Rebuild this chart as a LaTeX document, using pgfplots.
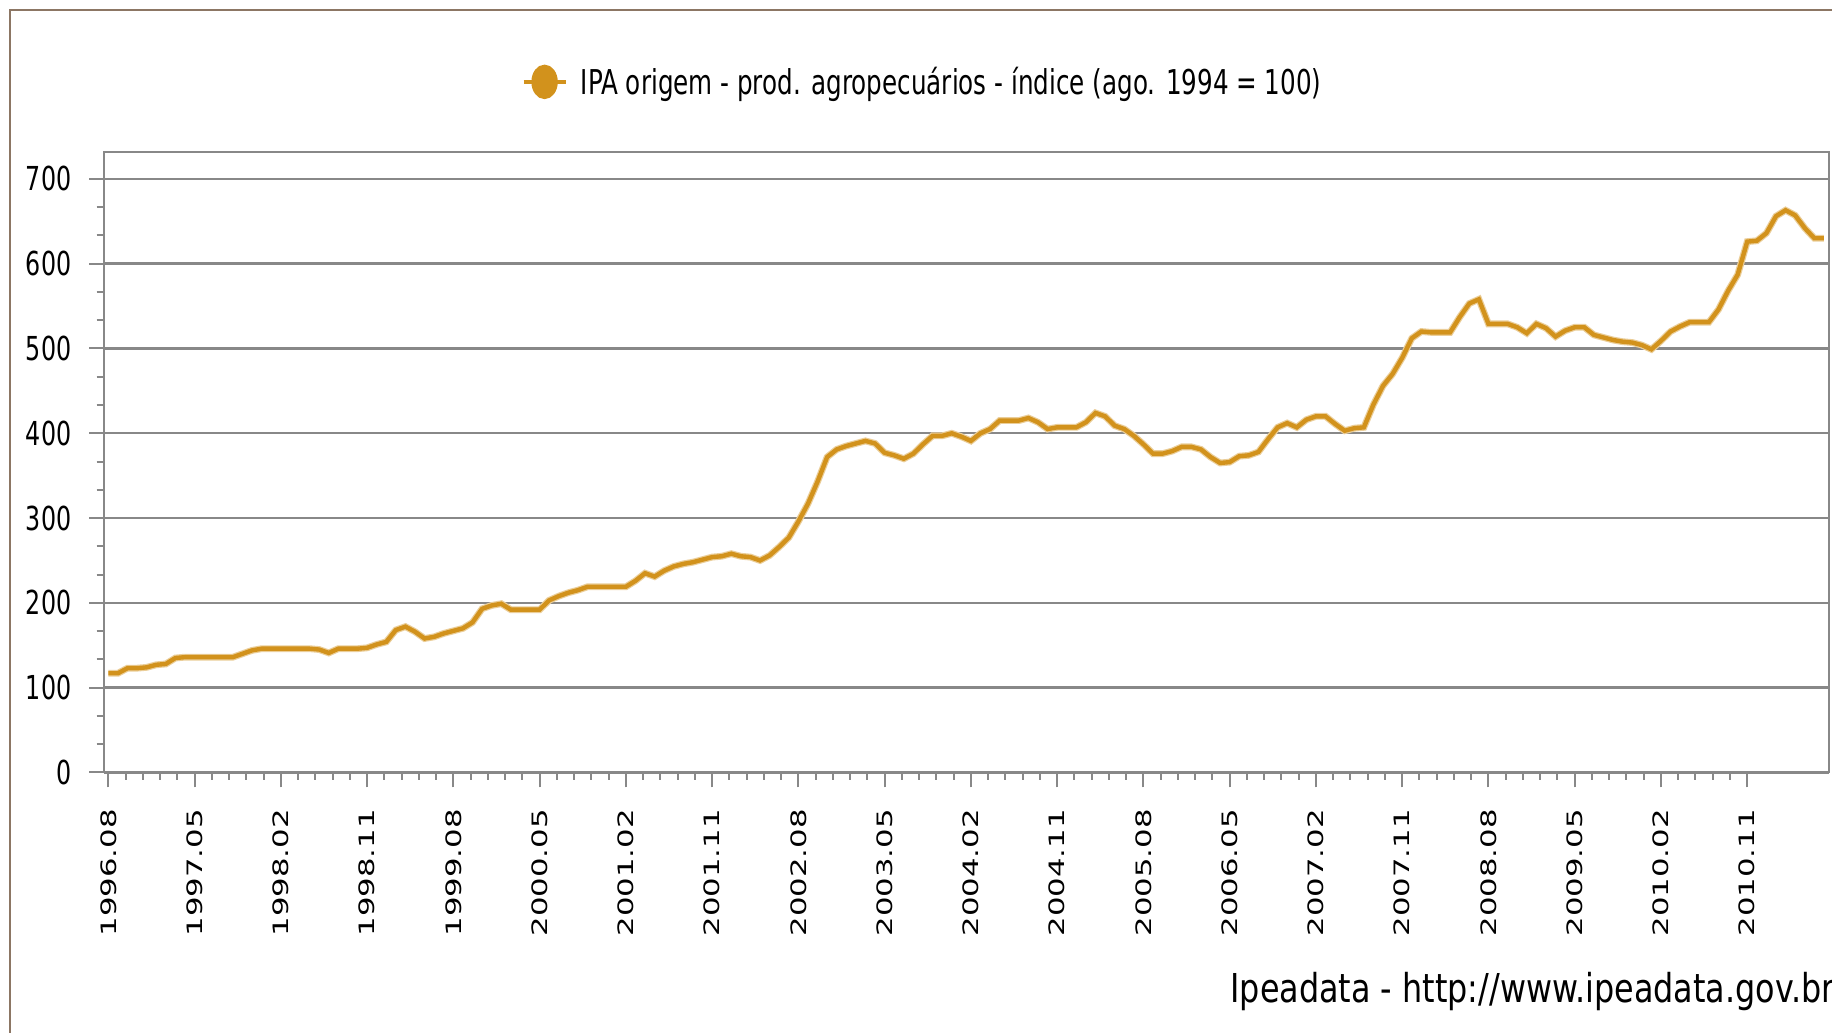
\documentclass[border=0pt]{standalone}
\usepackage{fontspec}
\usepackage{pgfplots}
\usepackage{pgfplotstable}
\pgfplotsset{compat=1.18}
\newfontfamily\legfont[FakeStretch=0.72]{DejaVu Sans}
\newfontfamily\footfont[FakeStretch=0.8]{DejaVu Sans}
\newfontfamily\xtfont[FakeStretch=1.45]{DejaVu Sans}
\definecolor{gold}{RGB}{210,146,28}
\definecolor{gridgray}{RGB}{136,136,136}
\definecolor{framebrown}{RGB}{140,118,100}

\pgfplotstableread{
i v
0 117
1 117
2 123
3 123
4 124
5 127
6 128
7 135
8 136
9 136
10 136
11 136
12 136
13 136
14 140
15 144
16 146
17 146
18 146
19 146
20 146
21 146
22 145
23 141
24 146
25 146
26 146
27 147
28 151
29 154
30 168
31 172
32 166
33 158
34 160
35 164
36 167
37 170
38 177
39 193
40 197
41 199
42 192
43 192
44 192
45 192
46 203
47 208
48 212
49 215
50 219
51 219
52 219
53 219
54 219
55 226
56 235
57 231
58 238
59 243
60 246
61 248
62 251
63 254
64 255
65 258
66 255
67 254
68 250
69 256
70 266
71 277
72 296
73 317
74 343
75 372
76 381
77 385
78 388
79 391
80 388
81 377
82 374
83 370
84 376
85 387
86 397
87 397
88 400
89 396
90 391
91 400
92 405
93 415
94 415
95 415
96 418
97 413
98 405
99 407
100 407
101 407
102 413
103 424
104 420
105 409
106 405
107 397
108 387
109 376
110 376
111 379
112 384
113 384
114 381
115 372
116 365
117 366
118 373
119 374
120 378
121 393
122 407
123 412
124 407
125 416
126 420
127 420
128 411
129 403
130 406
131 407
132 434
133 456
134 470
135 489
136 512
137 520
138 519
139 519
140 519
141 537
142 553
143 558
144 529
145 529
146 529
147 525
148 518
149 529
150 524
151 514
152 521
153 525
154 525
155 516
156 513
157 510
158 508
159 507
160 504
161 499
162 509
163 520
164 526
165 531
166 531
167 531
168 546
169 568
170 587
171 626
172 627
173 636
174 656
175 663
176 657
177 642
178 630
179 630
}\datatable

\begin{document}
\begin{tikzpicture}[x=1pt,y=1pt]
\useasboundingbox (0,0) rectangle (916,516.5);
\fill[white] (0,0) rectangle (916,516.5);
\draw[framebrown, line width=1pt] (5,-2) -- (5,511.5) -- (930,511.5);
\begin{axis}[
  at={(52pt,130.25pt)}, anchor=south west,
  scale only axis, width=862.35pt, height=310.25pt,
  xmin=-0.45, xmax=179.5, ymin=0, ymax=731.7,
  axis line style={gridgray, line width=1pt},
  xtick={0,9,...,171},
  xticklabels={1996.08,1997.05,1998.02,1998.11,1999.08,2000.05,2001.02,2001.11,2002.08,2003.05,2004.02,2004.11,2005.08,2006.05,2007.02,2007.11,2008.08,2009.05,2010.02,2010.11},
  minor x tick num=4,
  ytick={0,100,...,700},
  minor y tick num=2,
  tick align=outside,
  xtick pos=left, ytick pos=left,
  major tick length=7.5pt, minor tick length=3.75pt,
  tick style={gridgray, line width=1pt},
  ymajorgrids, grid style={gridgray, line width=1.2pt},
  /pgf/number format/assume math mode=true,
  x tick label style={yshift=-10.75pt, font=\xtfont\fontsize{10.6}{12}\selectfont, rotate=90, anchor=east, inner sep=0pt},
  y tick label style={xshift=-8.65pt, font=\legfont\fontsize{16.5}{18}\selectfont, anchor=east, inner sep=0pt},
  legend style={draw=none, fill=none, inner sep=0pt, outer sep=0pt,
    at={(0.242,1.113)}, anchor=west,
    font=\legfont\fontsize{17.1}{20}\selectfont,
    nodes={inner sep=0pt}, column sep=6.5pt},
  legend image code/.code={%
    \draw[gold, line width=2.2pt] (0pt,0pt) -- (21pt,0pt);
    \fill[gold] (10.5pt,0pt) ellipse [x radius=5.5pt, y radius=7.5pt];},
]
\addplot[gold!45, line width=3.4pt, mark=none, forget plot] table[x=i, y=v] {\datatable};
\addplot[gold, line width=2.2pt, mark=none] table[x=i, y=v] {\datatable};
\addlegendentry{IPA origem - prod. agropecuários - índice (ago. 1994 = 100)}
\end{axis}
\node[anchor=base west, inner sep=0pt, font=\footfont\fontsize{19.9}{22}\selectfont] at (615,15) {Ipeadata - http://www.ipeadata.gov.br};
\end{tikzpicture}
\end{document}
